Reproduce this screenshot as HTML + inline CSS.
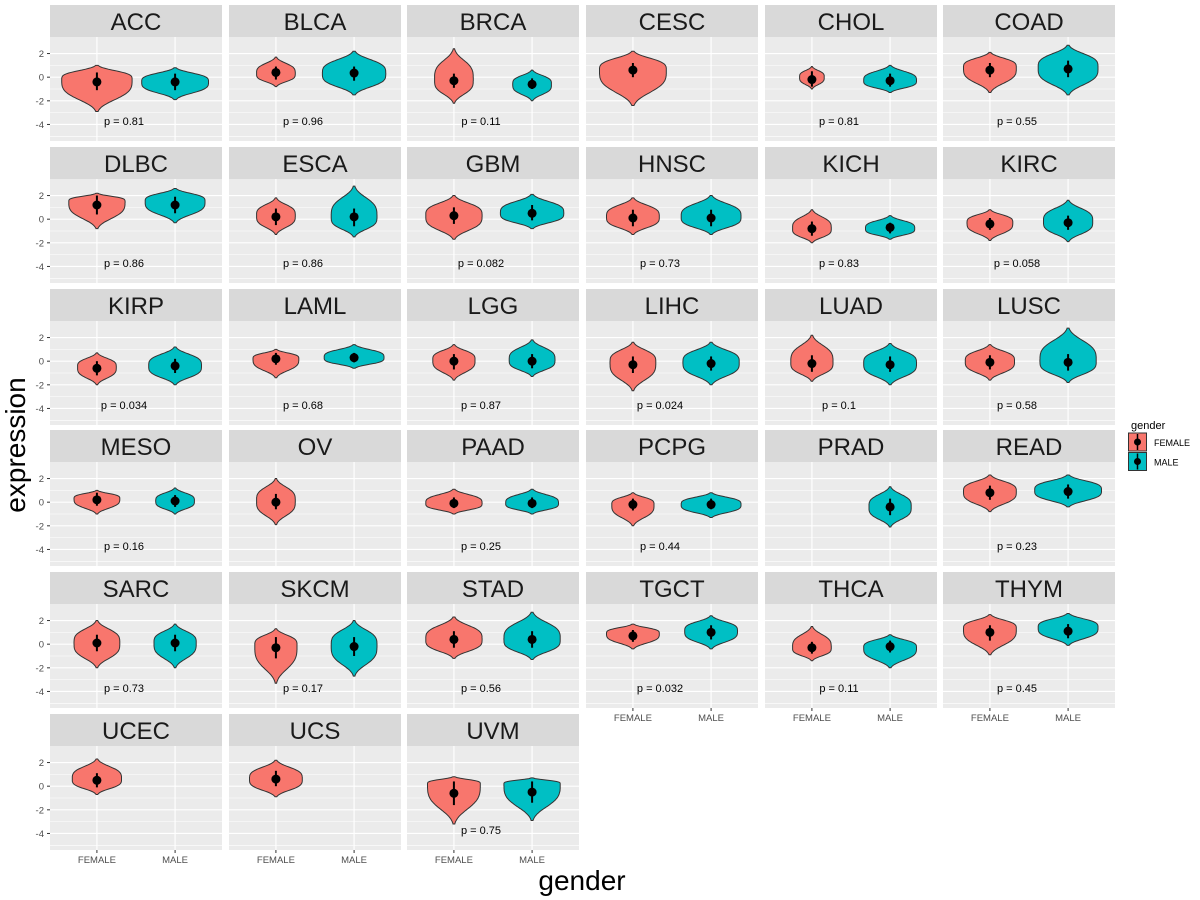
<!DOCTYPE html>
<html><head><meta charset="utf-8"><style>
body{margin:0;background:#fff;}
svg{display:block;font-family:"Liberation Sans",Arial,sans-serif;}
</style></head><body>
<svg id="chart" width="1200" height="900"></svg>
<script>
const panels=["ACC","BLCA","BRCA","CESC","CHOL","COAD","DLBC","ESCA","GBM","HNSC","KICH","KIRC","KIRP","LAML","LGG","LIHC","LUAD","LUSC","MESO","OV","PAAD","PCPG","PRAD","READ","SARC","SKCM","STAD","TGCT","THCA","THYM","UCEC","UCS","UVM"];
const pvals=["0.81","0.96","0.11",null,"0.81","0.55","0.86","0.86","0.082","0.73","0.83","0.058","0.034","0.68","0.87","0.024","0.1","0.58","0.16",null,"0.25","0.44",null,"0.23","0.73","0.17","0.56","0.032","0.11","0.45",null,null,"0.75"];
// [min,max,peak,widthFrac,mean,errLo,errHi]
const female=[[-2.9,1.0,-0.2,1,-0.4,-1.1,0.4],[-0.8,1.7,0.3,0.55,0.4,-0.2,0.9],[-2.2,2.4,-0.2,0.55,-0.3,-0.9,0.3],[-2.4,2.2,0.6,0.95,0.6,0,1.2],[-1.0,0.9,0,0.35,-0.2,-0.8,0.5],[-1.3,2.1,0.8,0.75,0.6,0,1.2],
[-0.8,2.2,1.5,0.8,1.2,0.4,2.0],[-1.3,1.8,0.3,0.55,0.2,-0.5,0.9],[-1.7,2.0,0.3,0.8,0.3,-0.4,1.0],[-1.3,1.8,0.2,0.75,0.1,-0.6,0.8],[-2.0,0.8,-0.8,0.55,-0.8,-1.4,-0.2],[-1.8,0.8,-0.3,0.65,-0.4,-0.9,0.1],
[-2.0,0.7,-0.5,0.55,-0.6,-1.2,0],[-1.4,1.0,0.2,0.65,0.2,-0.3,0.7],[-1.6,1.4,0.1,0.6,0,-0.7,0.6],[-2.5,1.6,-0.1,0.65,-0.3,-1.0,0.4],[-1.7,2.2,-0.1,0.6,-0.2,-0.9,0.5],[-1.6,1.4,0,0.7,-0.1,-0.7,0.5],
[-1.0,1.0,0.3,0.65,0.2,-0.3,0.8],[-1.9,2.0,0.1,0.55,0,-0.6,0.7],[-1.0,1.1,-0.1,0.8,-0.1,-0.5,0.4],[-2.0,0.8,-0.2,0.6,-0.2,-0.7,0.3],null,[-0.8,2.3,0.9,0.75,0.8,0.2,1.4],
[-2.0,2.0,0.1,0.65,0.1,-0.6,0.8],[-3.3,1.3,-0.1,0.6,-0.3,-1.2,0.6],[-1.2,2.3,0.4,0.8,0.4,-0.3,1.1],[-0.4,1.7,0.9,0.75,0.7,0.2,1.2],[-1.4,1.5,-0.3,0.55,-0.3,-0.8,0.2],[-0.9,2.5,1.3,0.75,1.0,0.3,1.6],
[-0.7,2.3,0.6,0.7,0.5,-0.1,1.1],[-0.9,2.2,0.6,0.75,0.6,0,1.3],[-3.2,0.8,0.2,0.75,-0.6,-1.6,0.4]];
const male=[[-1.9,0.8,-0.4,0.95,-0.4,-1.1,0.3],[-1.5,2.2,0.3,0.9,0.35,-0.3,0.9],[-2.0,0.6,-0.6,0.55,-0.6,-1.0,-0.1],null,[-1.3,1.0,-0.3,0.75,-0.3,-0.8,0.3],[-1.5,2.7,0.8,0.85,0.7,0,1.4],
[-0.3,2.6,1.5,0.85,1.2,0.5,1.9],[-1.5,2.8,0.2,0.65,0.2,-0.6,0.9],[-0.8,2.1,0.5,0.9,0.5,-0.1,1.2],[-1.3,2.0,0.2,0.85,0.1,-0.6,0.8],[-1.7,0.3,-0.8,0.7,-0.7,-1.2,-0.3],[-1.9,1.6,-0.2,0.7,-0.3,-0.9,0.3],
[-2.0,1.2,-0.4,0.75,-0.4,-1.0,0.2],[-0.6,1.4,0.3,0.85,0.3,-0.1,0.7],[-1.3,1.8,0.1,0.65,0,-0.6,0.6],[-2.0,1.6,-0.1,0.8,-0.2,-0.8,0.4],[-2.0,1.5,-0.2,0.75,-0.3,-0.9,0.4],[-1.8,2.8,0,0.8,-0.1,-0.8,0.6],
[-1.0,1.2,0.1,0.55,0.1,-0.4,0.6],null,[-1.0,1.1,-0.1,0.75,-0.1,-0.5,0.4],[-1.3,0.8,-0.2,0.85,-0.2,-0.6,0.3],[-2.1,1.3,-0.4,0.6,-0.4,-1.1,0.3],[-0.4,2.3,1.0,0.95,0.9,0.3,1.5],
[-2.0,1.7,0.1,0.6,0.1,-0.6,0.8],[-2.7,2.0,-0.1,0.65,-0.2,-1.0,0.6],[-1.3,2.7,0.4,0.8,0.4,-0.3,1.1],[-0.4,2.4,1.1,0.75,1.0,0.4,1.6],[-2.0,0.8,-0.3,0.75,-0.2,-0.7,0.3],[-0.1,2.6,1.4,0.85,1.1,0.5,1.7],
null,null,[-2.9,0.7,0.2,0.8,-0.5,-1.4,0.4]];
const yTicks=[2,0,-2,-4];
const categories=["FEMALE","MALE"];

const NS="http://www.w3.org/2000/svg";
const svg=document.getElementById("chart");
function el(t,a,p){const e=document.createElementNS(NS,t);for(const k in a)e.setAttribute(k,a[k]);(p||svg).appendChild(e);return e;}
const colL=[50,229,407,586,765,943],PW=172,rowT=[5,147,289,430,572,714],SH=32,PH=104;
const YMAX=3.4,YMIN=-5.4;
const fills=["#F8766D","#00BFC4"];
panels.forEach((name,i)=>{
  const c=i%6,r=Math.floor(i/6),x0=colL[c],top=rowT[r],py=top+SH;
  const g=el("g",{});
  
  
  const ys=v=>py+(YMAX-v)/(YMAX-YMIN)*PH;
  const xs=k=>x0+(k+0.6)/2.2*PW;
  const unit=PW/2.2;
  const s=el("rect",{x:x0,y:top,width:PW,height:SH,fill:"#D9D9D9"},g);
  
  const st=el("text",{x:x0+PW/2,y:top+25,"text-anchor":"middle","font-size":24,fill:"#1A1A1A"},g);st.textContent=name;
  
  el("rect",{x:x0,y:py,width:PW,height:PH,fill:"#EBEBEB"},g);
  [1,-1,-3,-5].forEach(v=>el("line",{x1:x0,x2:x0+PW,y1:ys(v),y2:ys(v),stroke:"#fff","stroke-width":0.6},g));
  yTicks.forEach(v=>el("line",{x1:x0,x2:x0+PW,y1:ys(v),y2:ys(v),stroke:"#fff","stroke-width":1.2},g));
  [0,1].forEach(k=>el("line",{x1:xs(k),x2:xs(k),y1:py,y2:py+PH,stroke:"#fff","stroke-width":1.2},g));
  [female[i],male[i]].forEach((d,k)=>{
    if(!d)return;
    const [mn,mx,pk,wf,mean,lo,hi]=d;const cx=xs(k);const hw=0.45*unit*wf;
    const N=60,L=[],R=[];
    for(let j=0;j<=N;j++){const v=mn+(mx-mn)*j/N;const sd=v>=pk?(mx-pk)/2:(pk-mn)/2;const z=Math.abs(v-pk)/Math.max(sd,0.05);
      const w=hw*Math.exp(-0.3*Math.pow(z,3.5));L.push([cx-w,ys(v)]);R.push([cx+w,ys(v)]);}
    const pts=L.concat(R.reverse()).map(p=>p[0].toFixed(1)+","+p[1].toFixed(1)).join(" ");
    const vp=el("polygon",{points:pts,fill:fills[k],stroke:"#333","stroke-width":1},g);
    
    el("line",{x1:cx,x2:cx,y1:ys(lo),y2:ys(hi),stroke:"#000","stroke-width":2},g);
    const pt=el("circle",{cx:cx,cy:ys(mean),r:4.5,fill:"#000"},g);
    
  });
  if(pvals[i]){const pt=el("text",{x:x0+74,y:ys(-3.7)+4,"text-anchor":"middle","font-size":11,fill:"#000"},g);pt.textContent="p = "+pvals[i];
    }
  if(c===0){yTicks.forEach(v=>{el("line",{x1:x0-3,x2:x0,y1:ys(v),y2:ys(v),stroke:"#333"},g);
    const t=el("text",{x:x0-6,y:ys(v)+3.5,"text-anchor":"end","font-size":9.5,fill:"#4D4D4D"},g);t.textContent=v;
    });}
  const bottom=(c<3&&r===5)||(c>=3&&r===4);
  if(bottom){[0,1].forEach(k=>{el("line",{x1:xs(k),x2:xs(k),y1:py+PH,y2:py+PH+3,stroke:"#333"},g);
    const t=el("text",{x:xs(k),y:py+PH+13,"text-anchor":"middle","font-size":9.5,fill:"#4D4D4D"},g);t.textContent=categories[k];
    });}
});
const yt=el("text",{x:0,y:0,transform:"translate(25,445) rotate(-90)","text-anchor":"middle","font-size":28,fill:"#000"});yt.textContent="expression";

const xt=el("text",{x:582,y:890,"text-anchor":"middle","font-size":28,fill:"#000"});xt.textContent="gender";

const lg=el("g",{});
const lt=el("text",{x:1131,y:429,"font-size":11,fill:"#000"},lg);lt.textContent="gender";
categories.forEach((cat,k)=>{const y=433+k*19.5;
  const kr=el("rect",{x:1128.5,y:y,width:18,height:18,fill:fills[k],stroke:"#333","stroke-width":1},lg);
  
  el("line",{x1:1137.5,x2:1137.5,y1:y+1,y2:y+17,stroke:"#000","stroke-width":1.5},lg);
  el("circle",{cx:1137.5,cy:y+9,r:3.5,fill:"#000"},lg);
  const t=el("text",{x:1154,y:y+13,"font-size":9,fill:"#000"},lg);t.textContent=cat;
  });
</script>
</body></html>
